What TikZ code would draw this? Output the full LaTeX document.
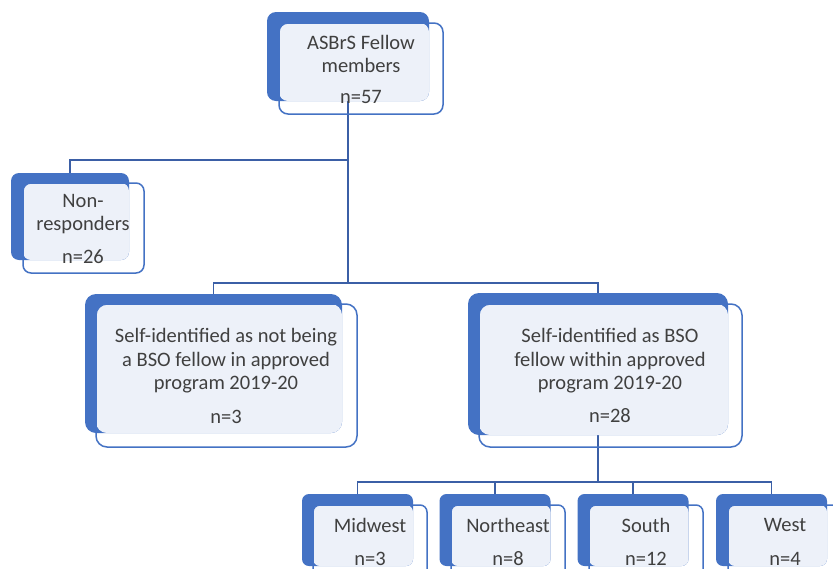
\documentclass[tikz,border=0pt]{standalone}
\usepackage{fontspec}
\setmainfont{Carlito}
\definecolor{accblue}{HTML}{4472C4}
\definecolor{lightfill}{HTML}{EDF1F9}
\definecolor{connblue}{HTML}{3B5FA6}
\definecolor{txtgray}{HTML}{404040}
\tikzset{
  backbox/.style={fill=accblue, draw=none, inner sep=0pt, outer sep=0pt, rounded corners=#1},
  backbox/.default=9pt,
  frontbox/.style={draw=accblue, line width=1.5pt, fill=none, inner sep=0pt, outer sep=0pt, rounded corners=#1},
  frontbox/.default=9pt,
  conn/.style={draw=connblue, line width=1.6pt},
  lbl/.style={text=txtgray, align=center, inner sep=0pt, font=\fontsize{20.5}{23.5}\selectfont},
}
\newcommand\litefill[3]{\fill[lightfill, rounded corners=#3] (#1.north west) rectangle (#2.south east);}
\begin{document}
\begin{tikzpicture}[x=1pt,y=-1pt]
\useasboundingbox (0,0) rectangle (833,568);
\clip (0,0) rectangle (833,568);
\fill[white] (0,0) rectangle (833,568);
% level coordinates
\coordinate (L1) at (0,160);
\coordinate (L2) at (0,283);
\coordinate (L3) at (0,482);
% back boxes
\node[backbox, minimum width=162pt, minimum height=89pt] (b1) at (348,56.5) {};
\node[backbox=8pt, minimum width=118pt, minimum height=87pt] (b2) at (70,216.5) {};
\node[backbox=11pt, minimum width=257pt, minimum height=139pt] (b3) at (213.5,363.5) {};
\node[backbox=11pt, minimum width=260pt, minimum height=142pt] (b4) at (598,364) {};
\node[backbox=7pt, minimum width=111pt, minimum height=72pt] (b5) at (357.5,530) {};
\node[backbox=7pt, minimum width=111pt, minimum height=72pt] (b6) at (495,530) {};
\node[backbox=7pt, minimum width=111pt, minimum height=72pt] (b7) at (633,530) {};
\node[backbox=7pt, minimum width=111pt, minimum height=72pt] (b8) at (771.5,530) {};
% front boxes (outline only)
\path (361,68.5) node[minimum width=164pt, minimum height=91pt, inner sep=0pt, outer sep=0pt] (f1) {};
\path (83.5,228) node[minimum width=121pt, minimum height=90pt, inner sep=0pt, outer sep=0pt] (f2) {};
\path (226.5,375.5) node[minimum width=261pt, minimum height=143pt, inner sep=0pt, outer sep=0pt] (f3) {};
\path (610.5,375.5) node[minimum width=263pt, minimum height=143pt, inner sep=0pt, outer sep=0pt] (f4) {};
\path (370,542.5) node[minimum width=114pt, minimum height=75pt, inner sep=0pt, outer sep=0pt] (f5) {};
\path (508,542.5) node[minimum width=114pt, minimum height=75pt, inner sep=0pt, outer sep=0pt] (f6) {};
\path (646,542.5) node[minimum width=114pt, minimum height=75pt, inner sep=0pt, outer sep=0pt] (f7) {};
\path (785,542.5) node[minimum width=114pt, minimum height=75pt, inner sep=0pt, outer sep=0pt] (f8) {};
% connectors
\draw[conn] (b1.south) -- (b1.south |- L2);
\draw[conn] (b1.south |- L1) -| (b2.north);
\draw[conn] (b3.north) |- (b4.north |- L2) -- (b4.north);
\draw[conn] (b4.south) -- (b4.south |- L3);
\draw[conn] (b5.north) |- (b8.north |- L3) -- (b8.north);
\draw[conn] (b6.north) -- (b6.north |- L3);
\draw[conn] (b7.north) -- (b7.north |- L3);
% light fills
\litefill{f1}{b1}{9pt}
\litefill{f2}{b2}{8pt}
\litefill{f3}{b3}{11pt}
\litefill{f4}{b4}{11pt}
\litefill{f5}{b5}{7pt}
\litefill{f6}{b6}{7pt}
\litefill{f7}{b7}{7pt}
\litefill{f8}{b8}{7pt}
% front outlines
\draw[frontbox] (f1.north west) rectangle (f1.south east);
\draw[frontbox=8pt] (f2.north west) rectangle (f2.south east);
\draw[frontbox=11pt] (f3.north west) rectangle (f3.south east);
\draw[frontbox=11pt] (f4.north west) rectangle (f4.south east);
\draw[frontbox=7pt] (f5.north west) rectangle (f5.south east);
\draw[frontbox=7pt] (f6.north west) rectangle (f6.south east);
\draw[frontbox=7pt] (f7.north west) rectangle (f7.south east);
\draw[frontbox=7pt] (f8.north west) rectangle (f8.south east);
% labels
\node[lbl] (t1) at (361,54) {ASBrS Fellow\\members};
\node[lbl] (n1) at (361,97) {n=57};
\node[lbl] (t2) at (83,214) {Non-\\responders};
\node[lbl] (n2) at (83,257) {n=26};
\node[lbl] (t3) at (226,361) {Self-identified as not being\\a BSO fellow in approved\\program 2019-20};
\node[lbl] (n3) at (226,417) {n=3};
\node[lbl] (t4) at (610,361) {Self-identified as BSO\\fellow within approved\\program 2019-20};
\node[lbl] (n4) at (610,416) {n=28};
\node[lbl] (t5) at (370,525) {Midwest};
\node[lbl] (n5) at (370,559) {n=3};
\node[lbl] (t6) at (508,525) {Northeast};
\node[lbl] (n6) at (508,559) {n=8};
\node[lbl] (t7) at (646,525) {South};
\node[lbl] (n7) at (646,559) {n=12};
\node[lbl] (t8) at (785,525) {West};
\node[lbl] (n8) at (785,559) {n=4};
\end{tikzpicture}
\end{document}
